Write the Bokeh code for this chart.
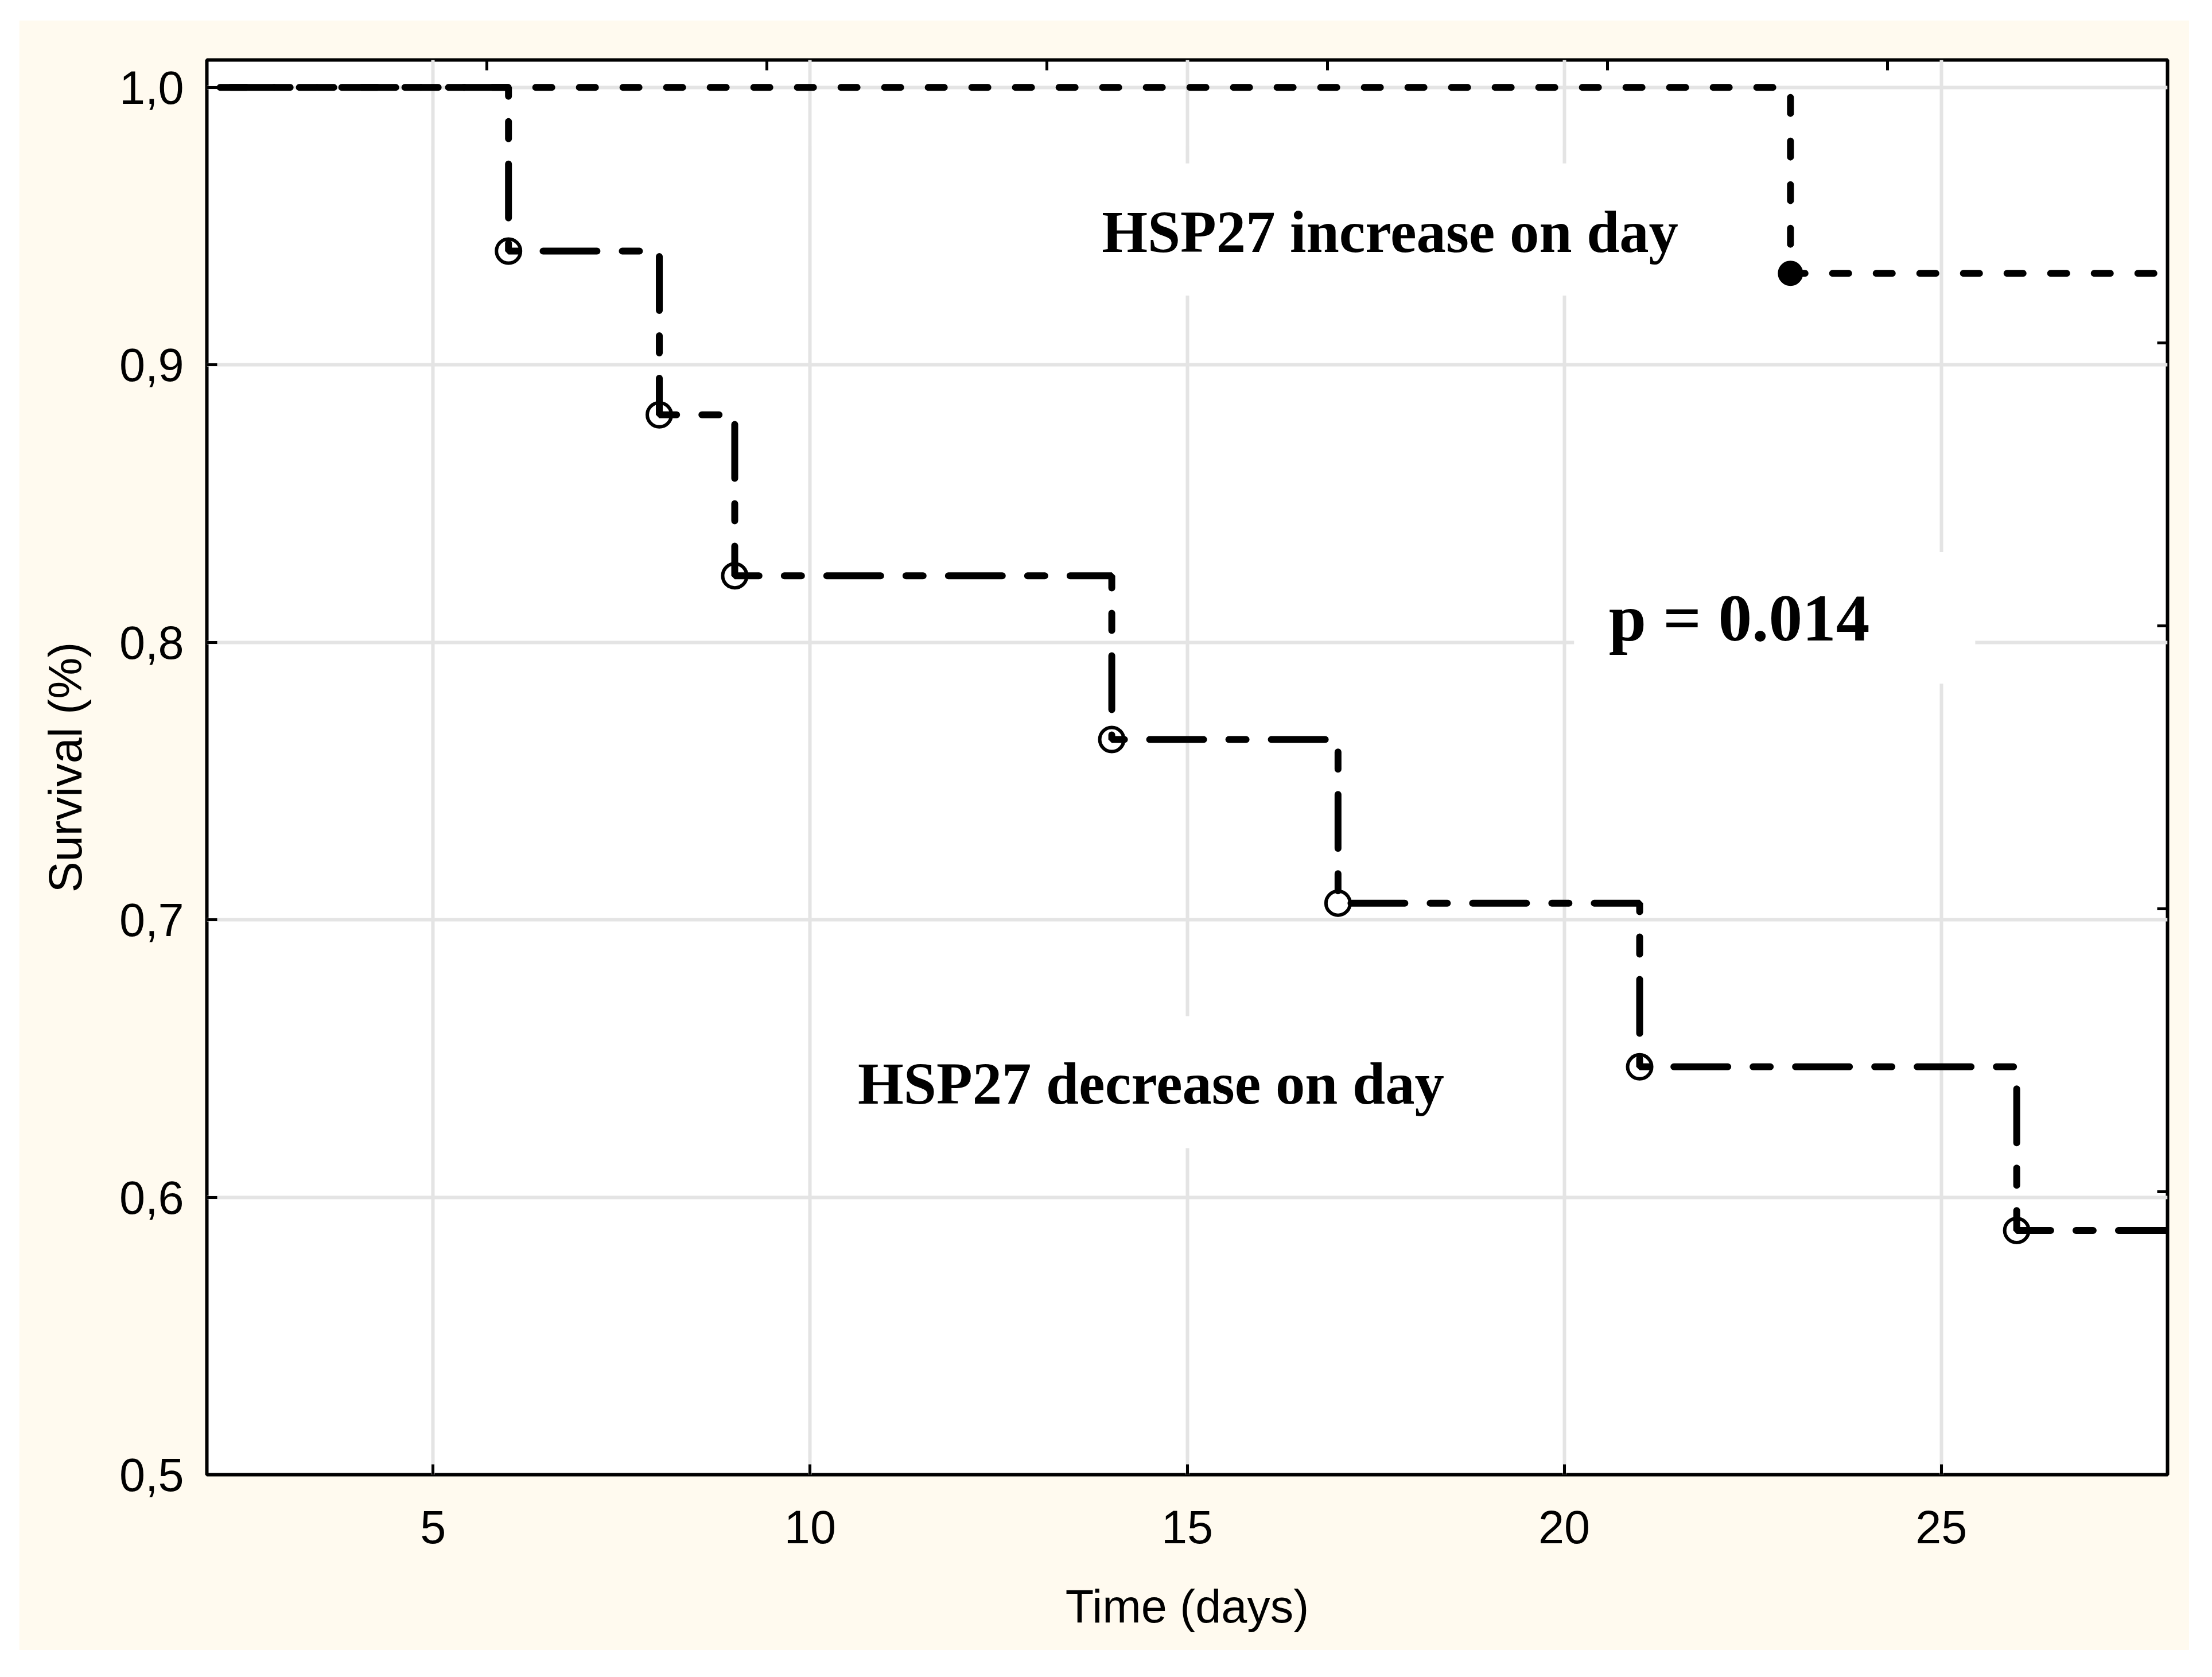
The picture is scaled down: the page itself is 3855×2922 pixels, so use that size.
from bokeh.plotting import figure
from bokeh.models import FixedTicker, LinearAxis, Range1d, BoxAnnotation, Label
from bokeh.embed import file_html
from bokeh.resources import INLINE

# ---- data ----
dec_days = [0, 6, 8, 9, 14, 17, 21, 26, 28]
dec_surv = [1.0, 0.941, 0.882, 0.824, 0.765, 0.706, 0.647, 0.588, 0.588]
dec_event_days = [6, 8, 9, 14, 17, 21, 26]
dec_event_surv = [0.941, 0.882, 0.824, 0.765, 0.706, 0.647, 0.588]

inc_days = [0, 23, 28]
inc_surv = [1.0, 0.933, 0.933]
inc_event_days = [23]
inc_event_surv = [0.933]

x_ticks = [5, 10, 15, 20, 25]
y_ticks = [0.5, 0.6, 0.7, 0.8, 0.9, 1.0]
y_tick_labels = ["0,5", "0,6", "0,7", "0,8", "0,9", "1,0"]
top_ticks = [5.714, 9.429, 13.143, 16.857, 20.571, 24.286]
right_ticks = [0.602, 0.704, 0.806, 0.908]

group_labels = ["HSP27 increase on day", "HSP27 decrease on day"]
p_label = "p = 0.014"

CREAM = "#FFFAEF"
GRID = "#E4E4E4"

p = figure(width=3782, height=2840,
           x_range=Range1d(2, 28), y_range=Range1d(0.5, 1.0099),
           output_backend="svg", toolbar_location=None,
           min_border_left=327, min_border_right=38,
           min_border_top=69, min_border_bottom=306,
           background_fill_color="white", border_fill_color=CREAM,
           outline_line_color="black", outline_line_width=6,
           margin=(35, 0, 0, 33),
           x_axis_label="Time (days)", y_axis_label="Survival (%)")

# grid
p.xgrid.ticker = FixedTicker(ticks=x_ticks)
p.ygrid.ticker = FixedTicker(ticks=y_ticks)
for g in (p.xgrid, p.ygrid):
    g.grid_line_color = GRID
    g.grid_line_width = 6

# main axes
p.xaxis.ticker = FixedTicker(ticks=x_ticks)
p.yaxis.ticker = FixedTicker(ticks=y_ticks)
p.yaxis.major_label_overrides = {t: l for t, l in zip(y_ticks, y_tick_labels)}
for ax in (p.xaxis, p.yaxis):
    ax.axis_line_color = None
    ax.major_tick_in = 18
    ax.major_tick_out = 0
    ax.major_tick_line_width = 5
    ax.major_tick_line_color = "black"
    ax.minor_tick_line_color = None
    ax.major_label_text_font = "Liberation Sans"
    ax.major_label_text_font_size = "81px"
    ax.major_label_text_color = "black"
    ax.axis_label_text_font = "Liberation Sans"
    ax.axis_label_text_font_size = "81px"
    ax.axis_label_text_font_style = "normal"
    ax.axis_label_text_color = "black"
p.xaxis.major_label_standoff = 62
p.xaxis.axis_label_standoff = 62
p.yaxis.major_label_standoff = 40
p.yaxis.axis_label_standoff = 46

# secondary (unlabelled) axes on top and right
top_ax = LinearAxis(ticker=FixedTicker(ticks=top_ticks))
right_ax = LinearAxis(ticker=FixedTicker(ticks=right_ticks))
for ax in (top_ax, right_ax):
    ax.axis_line_color = None
    ax.major_tick_in = 18
    ax.major_tick_out = 0
    ax.major_tick_line_width = 5
    ax.minor_tick_line_color = None
    ax.major_label_text_font_size = "0px"
    ax.major_label_text_alpha = 0
    ax.major_label_standoff = 0
p.add_layout(top_ax, "above")
p.add_layout(right_ax, "right")

# white boxes behind the annotations (they interrupt the grid)
for l, r, b, t in [(13.40, 21.99, 0.925, 0.9726),
                   (10.22, 18.82, 0.6177, 0.6653),
                   (20.13, 25.45, 0.7851, 0.8325)]:
    p.add_layout(BoxAnnotation(left=l, right=r, bottom=b, top=t,
                               fill_color="white", fill_alpha=1, line_color=None))

# markers
p.scatter(dec_event_days, dec_event_surv, marker="circle", size=42,
          fill_color="white", line_color="black", line_width=6)
p.scatter(inc_event_days, inc_event_surv, marker="circle", size=40,
          fill_color="black", line_color="black", line_width=4)

# survival curves
p.step(dec_days, dec_surv, mode="after", line_color="black", line_width=12,
       line_dash="30 44 94 44", line_cap="round")
p.step(inc_days, inc_surv, mode="after", line_color="black", line_width=12,
       line_dash="28 48", line_cap="round")

# texts (annotation level, drawn last)
for x, y, t, size in [(17.69, 0.9479, group_labels[0], "77pt"),
                      (14.52, 0.6409, group_labels[1], "77pt"),
                      (22.32, 0.8089, p_label, "88pt")]:
    p.add_layout(Label(x=x, y=y, text=t, text_align="center",
                       text_baseline="alphabetic", text_font="Liberation Serif",
                       text_font_style="bold", text_font_size=size,
                       text_color="black"))

open("out.html", "w").write(file_html(p, INLINE))
